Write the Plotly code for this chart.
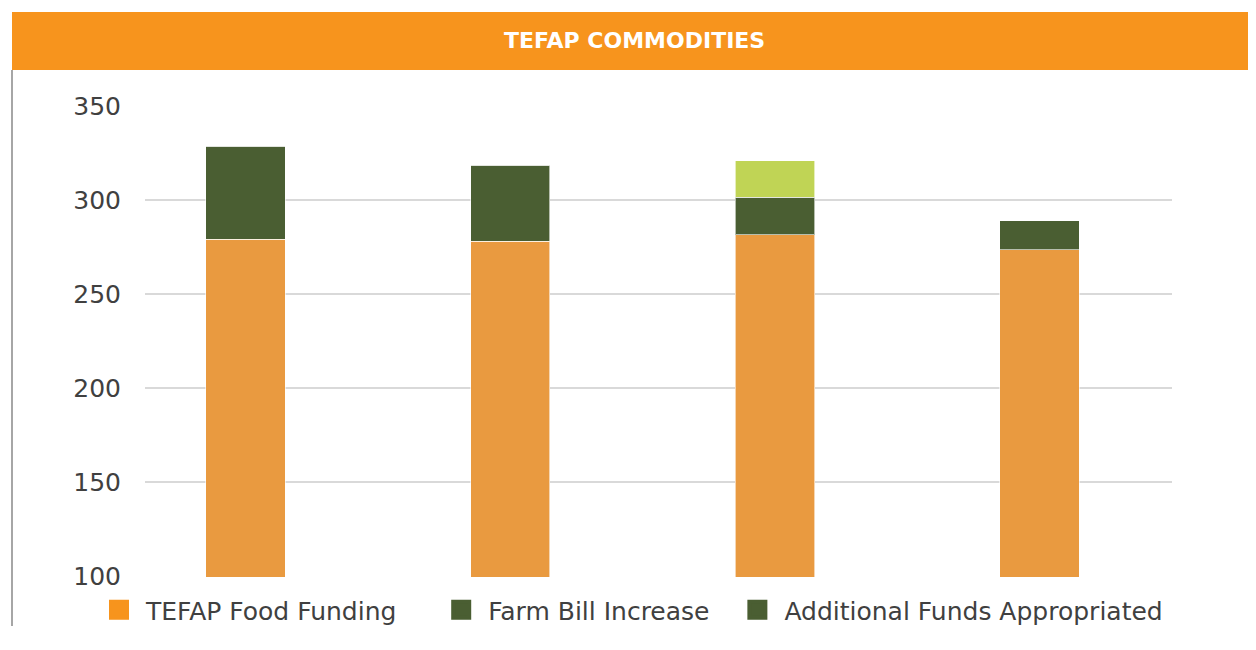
import plotly.graph_objects as go

categories = ["Year 1", "Year 2", "Year 3", "Year 4"]
tefap_food_funding = [279, 278, 281.5, 273.5]
farm_bill_increase = [49.5, 40.5, 20, 15.5]
additional_funds = [0, 0, 19.5, 0]
y_ticks = [100, 150, 200, 250, 300, 350]
legend_names = ["TEFAP Food Funding", "Farm Bill Increase", "Additional Funds Appropriated"]

C_ORANGE_BAR = "#E99A40"
C_ORANGE_LEG = "#F7941D"
C_DKGREEN = "#4A5E32"
C_LTGREEN = "#C0D455"
FONT = "DejaVu Sans"
TXT = "#404040"

fig = go.Figure()
bar_w = 0.30
line = dict(color="rgba(255,255,255,0.6)", width=1)
fig.add_bar(x=categories, y=tefap_food_funding, marker=dict(color=C_ORANGE_BAR, line=line),
            width=bar_w, showlegend=False, name=legend_names[0])
fig.add_bar(x=categories, y=farm_bill_increase, marker=dict(color=C_DKGREEN, line=line),
            width=bar_w, showlegend=False, name=legend_names[1])
fig.add_bar(x=categories, y=additional_funds, marker=dict(color=C_LTGREEN, line=line),
            width=bar_w, showlegend=False, name=legend_names[2])

# legend entries (trailing non-breaking spaces only widen the gaps between entries)
pads = ["\u00a0" * 4, "\u00a0" * 2, ""]
for name, col, pad in zip(legend_names, [C_ORANGE_LEG, C_DKGREEN, C_DKGREEN], pads):
    fig.add_scatter(x=[None], y=[None], mode="markers", name=name + pad,
                    marker=dict(symbol="square", size=16, color=col,
                                line=dict(color=col, width=4)))

# page has an 8px body margin -> work in screen coords and shift by 8
OFF = 8
W, H = 1240, 618
L = 145 - OFF
R = 1256 - 1172 - OFF
T = 106 - OFF - 1
B = H - (576 - OFF + 1)
pw, ph = W - L - R, H - T - B

def px_x(p):
    return (p - OFF - L) / pw

def px_y(p):
    return (H - B - (p - OFF)) / ph

fig.update_layout(
    width=W, height=H,
    barmode="stack",
    margin=dict(l=L, r=R, t=T, b=B, pad=0, autoexpand=False),
    paper_bgcolor="white", plot_bgcolor="white",
    font=dict(family=FONT, color=TXT),
    xaxis=dict(range=[-0.38, 3.50], showticklabels=False, showgrid=False,
               zeroline=False, showline=False, ticks=""),
    yaxis=dict(range=[100 - 1 / 1.88, 350 + 1 / 1.88], tickvals=y_ticks, showgrid=True,
               gridcolor="#D9D9D9", gridwidth=2, zeroline=False, showline=False,
               ticks="", ticklabelstandoff=23,
               tickfont=dict(family=FONT, size=25, color=TXT)),
    legend=dict(orientation="h", x=px_x(92), y=px_y(610), yanchor="middle",
                xanchor="left", itemwidth=44, traceorder="normal",
                font=dict(family=FONT, size=25, color=TXT),
                itemclick=False, bgcolor="rgba(0,0,0,0)"),
    shapes=[
        dict(type="rect", xref="paper", yref="paper",
             x0=px_x(12), x1=px_x(1256), y0=px_y(70), y1=px_y(12),
             fillcolor="#F7941D", line=dict(width=0), layer="below"),
        dict(type="line", xref="paper", yref="paper",
             x0=px_x(12), x1=px_x(12), y0=px_y(660), y1=px_y(70),
             line=dict(color="#A6A6A6", width=2)),
    ],
    annotations=[
        dict(text="<b>TEFAP COMMODITIES</b>", xref="paper", yref="paper",
             x=px_x(634), y=px_y(40), xanchor="center", yanchor="middle",
             showarrow=False, font=dict(family=FONT, size=22, color="white")),
    ],
)

fig.write_html("out.html")
